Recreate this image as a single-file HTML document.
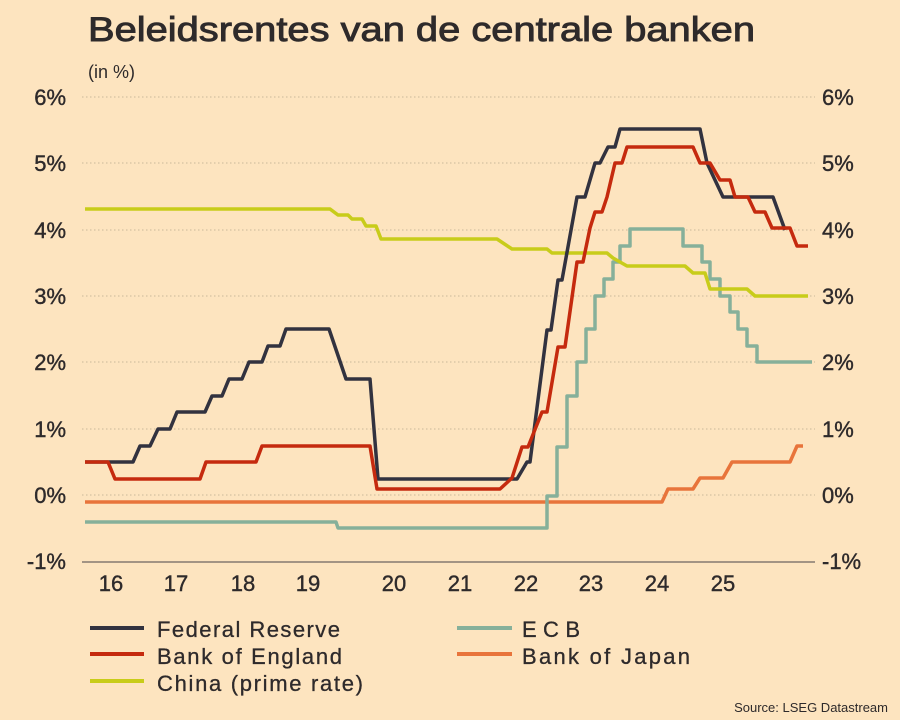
<!DOCTYPE html>
<html><head><meta charset="utf-8"><style>
body{margin:0;background:#fde4bf;}
svg{display:block;font-family:"Liberation Sans",sans-serif;}
</style></head><body>
<svg width="900" height="720" viewBox="0 0 900 720" xmlns="http://www.w3.org/2000/svg">
<rect width="900" height="720" fill="#fde4bf"/>
<text x="88" y="41" font-size="34" fill="#2e2a2b" stroke="#2e2a2b" stroke-width="0.9" textLength="667" lengthAdjust="spacingAndGlyphs">Beleidsrentes van de centrale banken</text>
<text x="88" y="78" font-size="18" fill="#2e2a2b">(in %)</text>
<g stroke="#c9b89a" stroke-width="1" stroke-dasharray="1.5,2.5">
<line x1="82" x2="815" y1="97" y2="97"/><line x1="82" x2="815" y1="163" y2="163"/>
<line x1="82" x2="815" y1="230" y2="230"/><line x1="82" x2="815" y1="296" y2="296"/>
<line x1="82" x2="815" y1="362" y2="362"/><line x1="82" x2="815" y1="429" y2="429"/>
<line x1="82" x2="815" y1="495" y2="495"/>
</g>
<line x1="82" x2="815" y1="562" y2="562" stroke="#6e6560" stroke-width="1.2"/>
<g font-size="22" fill="#2e2a2b" text-anchor="end" stroke="#2e2a2b" stroke-width="0.4">
<text x="66" y="105">6%</text><text x="66" y="171">5%</text><text x="66" y="238">4%</text>
<text x="66" y="304">3%</text><text x="66" y="370">2%</text><text x="66" y="437">1%</text>
<text x="66" y="503">0%</text><text x="66" y="569">-1%</text>
</g>
<g font-size="22" fill="#2e2a2b" text-anchor="start" stroke="#2e2a2b" stroke-width="0.4">
<text x="822" y="105">6%</text><text x="822" y="171">5%</text><text x="822" y="238">4%</text>
<text x="822" y="304">3%</text><text x="822" y="370">2%</text><text x="822" y="437">1%</text>
<text x="822" y="503">0%</text><text x="822" y="569">-1%</text>
</g>
<g font-size="22" fill="#2e2a2b" text-anchor="middle" stroke="#2e2a2b" stroke-width="0.4">
<text x="111" y="591">16</text><text x="176" y="591">17</text><text x="243" y="591">18</text>
<text x="308" y="591">19</text><text x="394" y="591">20</text><text x="460" y="591">21</text>
<text x="526" y="591">22</text><text x="591" y="591">23</text><text x="657" y="591">24</text>
<text x="723" y="591">25</text>
</g>
<g fill="none" stroke-width="3.5" stroke-linejoin="round">
<polyline stroke="#e8743b" points="85,502 662,502 668,489 693,489 700,478 723,478 732,462 790,462 797,446 803,446"/>
<polyline stroke="#86b09a" points="85,522 336,522 338,528 547,528 547,496 557,496 557,447 567,447 567,396 577,396 577,362 586,362 586,329 595,329 595,296 604,296 604,279 613,279 613,262 620,262 620,246 630,246 630,229 683,229 683,246 702,246 702,262 710,262 710,279 720,279 720,296 730,296 730,312 738,312 738,329 747,329 747,346 757,346 757,362 812,362"/>
<polyline stroke="#c8cc1a" points="85,209 330,209 338,215 348,215 352,219 362,219 366,226 376,226 381,239 497,239 512,249 547,249 552,253 607,253 613,258 627,266 685,266 693,273 705,273 710,289 747,289 755,296 808,296"/>
<polyline stroke="#32323f" points="85,462 133,462 140,446 150,446 158,429 170,429 177,412 205,412 212,396 222,396 229,379 242,379 249,362 262,362 268,346 280,346 286,329 329,329 346,379 370,379 378,479 517,479 527,462 530,462 547,330 551,330 558,280 562,280 577,197 585,197 595,163 600,163 608,147 615,147 620,129 700,129 707,163 723,197 773,197 785,230"/>
<polyline stroke="#c52a0e" points="85,462 108,462 115,479 200,479 206,462 256,462 262,446 370,446 377,489 500,489 512,478 522,447 528,447 542,412 547,412 558,347 565,347 577,262 583,262 590,228 595,212 602,212 607,197 615,163 622,163 627,147 693,147 700,163 710,163 720,180 730,180 735,197 748,197 755,212 765,212 772,228 790,228 797,246 808,246"/>
</g>
<g stroke-width="4">
<line x1="90" x2="144" y1="628" y2="628" stroke="#32323f"/>
<line x1="90" x2="144" y1="654" y2="654" stroke="#c52a0e"/>
<line x1="90" x2="144" y1="681" y2="681" stroke="#c8cc1a"/>
<line x1="457" x2="512" y1="628" y2="628" stroke="#86b09a"/>
<line x1="457" x2="512" y1="654" y2="654" stroke="#e8743b"/>
</g>
<g font-size="22" fill="#2e2a2b" stroke="#2e2a2b" stroke-width="0.3" lengthAdjust="spacingAndGlyphs">
<text x="157" y="637" textLength="183">Federal Reserve</text>
<text x="157" y="664" textLength="185">Bank of England</text>
<text x="157" y="691" textLength="206">China (prime rate)</text>
<text x="522" y="637" textLength="58">ECB</text>
<text x="522" y="664" textLength="168">Bank of Japan</text>
</g>
<text x="888" y="712" font-size="13" fill="#2e2a2b" text-anchor="end">Source: LSEG Datastream</text>
</svg>
</body></html>
